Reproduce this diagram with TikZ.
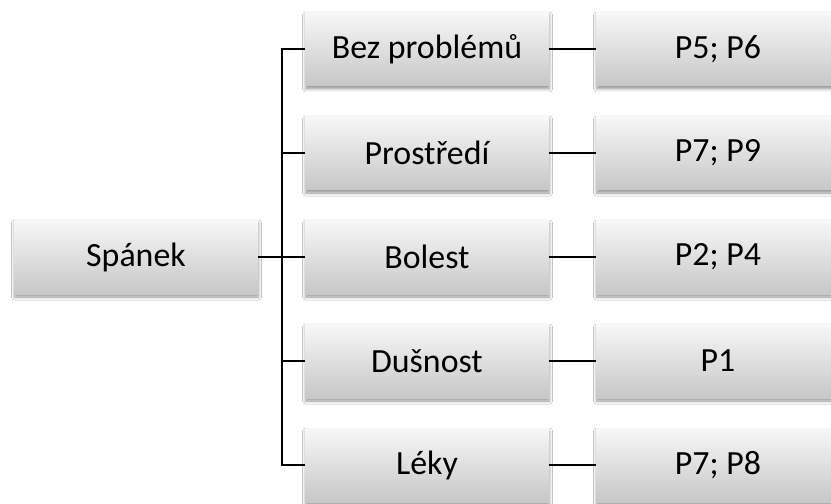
\documentclass[tikz,border=0pt]{standalone}
\usepackage{fontspec}
\setmainfont{Carlito}
\usetikzlibrary{shadows.blur}
\tikzset{
  box/.style={rectangle, minimum width=244bp, minimum height=74bp, inner sep=0pt,
    top color=white!97!black, bottom color=white!78!black, draw=none,
    blur shadow={shadow xshift=0.5bp, shadow yshift=-3bp, shadow blur radius=3bp, shadow opacity=40},
    font=\fontsize{34}{40}\selectfont},
  link/.style={draw=black, line width=1.6bp}
}
\begin{document}
\begin{tikzpicture}[x=1bp, y=-1bp]
  \clip (0,0) rectangle (831,504);
  \fill[white] (0,0) rectangle (831,504);
  % root
  \node[box] (s) at (136,257) {Spánek};
  % categories
  \node[box] (m1) at (427,49) {Bez problémů};
  \node[box] (m2) at (427,153) {Prostředí};
  \node[box] (m3) at (427,257) {Bolest};
  \node[box] (m4) at (427,361) {Dušnost};
  \node[box] (m5) at (427,465) {Léky};
  % participants
  \node[box] (r1) at (718,49) {P5; P6};
  \node[box] (r2) at (718,153) {P7; P9};
  \node[box] (r3) at (718,257) {P2; P4};
  \node[box] (r4) at (718,361) {P1};
  \node[box] (r5) at (718,465) {P7; P8};
  % junction on the trunk
  \coordinate (j) at (282,257);
  \draw[link] (s.east) -- (j);
  \foreach \m in {m1,m2,m3,m4,m5} {
    \draw[link] (j) |- (\m.west);
  }
  \foreach \i in {1,...,5} {
    \draw[link] (m\i.east) -- (r\i.west);
  }
\end{tikzpicture}
\end{document}
